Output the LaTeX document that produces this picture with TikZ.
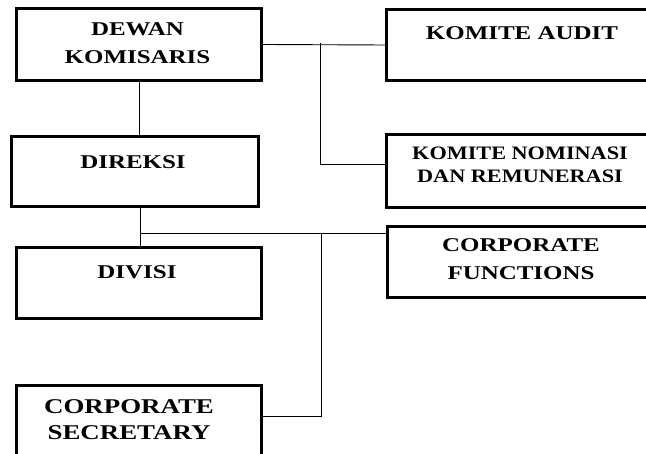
\documentclass[tikz,border=0pt]{standalone}
\usepackage{fontspec}
\newfontfamily\boxfont[FakeStretch=1.28]{Liberation Serif}
\newfontfamily\boxfontn[FakeStretch=1.17]{Liberation Serif}
\newfontfamily\boxfontc[FakeStretch=1.28]{Liberation Serif}
\begin{document}
\begin{tikzpicture}[x=1pt,y=-1pt,
  box/.style={draw=black, line width=3pt, inner sep=0pt, anchor=north west},
  conn/.style={draw=black, line width=0.9pt},
  lbl/.style={align=center, inner sep=0pt, text=black, font=\boxfont\bfseries\fontsize{19.5}{27.5}\selectfont},
  lbln/.style={align=center, inner sep=0pt, text=black, font=\boxfontn\bfseries\fontsize{19}{23}\selectfont},
  lblc/.style={align=center, inner sep=0pt, text=black, font=\boxfontc\bfseries\fontsize{21}{26}\selectfont}]
\useasboundingbox (0,0) rectangle (646,454);
\clip (0,0) rectangle (646,454);
% boxes
\node[box, minimum width=245pt, minimum height=72pt] (dk) at (15,7) {};
\node[box, minimum width=247pt, minimum height=70pt] (dr) at (10,135) {};
\node[box, minimum width=245pt, minimum height=71pt] (dv) at (15,246) {};
\node[box, minimum width=245pt, minimum height=80pt] (cs) at (15,384) {};
\node[box, minimum width=280pt, minimum height=71pt] (ka) at (385,8) {};
\node[box, minimum width=280pt, minimum height=73pt] (kn) at (385,133) {};
\node[box, minimum width=280pt, minimum height=71pt] (cf) at (386,225) {};
% labels
\node[lbl] (dkt) at (137.5,43) {DEWAN\\KOMISARIS};
\node[lbl] (drt) at (133,162.5) {DIREKSI};
\node[lbl] (dvt) at (137,272.5) {DIVISI};
\node[lbl] (kat) at (522,33.5) {KOMITE AUDIT};
\node[lbln] (knt) at (520,164.5) {KOMITE NOMINASI\\DAN REMUNERASI};
\node[lbl] (cft) at (521,259) {CORPORATE\\FUNCTIONS};
\node[lblc] (cst) at (129,420) {CORPORATE\\SECRETARY};
% connectors
\coordinate (u) at (320,43);
\coordinate (j) at (140,233);
\coordinate (t) at (321,233);
\draw[conn] (dk.east) -- (ka.west);
\draw[conn] (u) |- ([yshift=6.5pt]kn.west);
\draw[conn] (dk.south) -- (dk.south |- dr.north);
\draw[conn] (j |- dr.south) -- (j |- dv.north);
\draw[conn] (j) -- (cf.west |- j);
\draw[conn] (t) |- (cs.east |- 0,416);
\end{tikzpicture}
\end{document}
